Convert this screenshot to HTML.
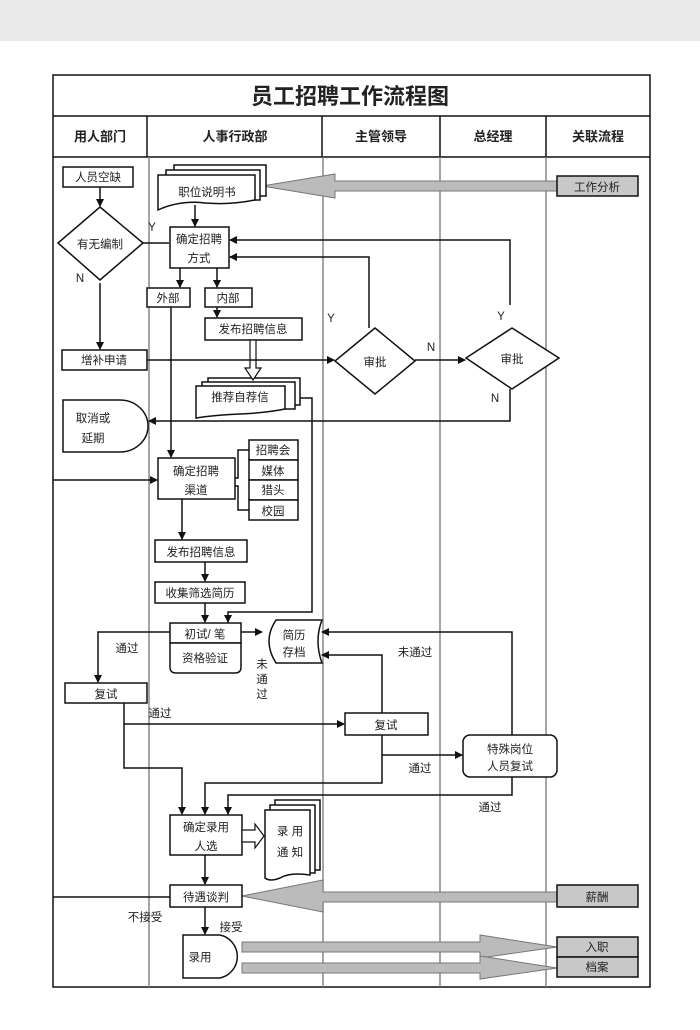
<!DOCTYPE html>
<html><head><meta charset="utf-8"><style>
html,body{margin:0;padding:0;background:#fff;}
svg{display:block;}
text{font-family:"Liberation Sans","Noto Sans CJK SC",sans-serif;fill:#222;}
</style></head><body>
<svg width="700" height="1030" viewBox="0 0 700 1030" xmlns="http://www.w3.org/2000/svg">
<defs>
<marker id="a" markerWidth="8" markerHeight="8" refX="7" refY="4" orient="auto" markerUnits="userSpaceOnUse"><path d="M0,0 L8,4 L0,8 z" fill="#111"/></marker>
</defs>
<rect x="0" y="0" width="700" height="41" fill="#e9e9e9"/>
<g stroke="#111" fill="none" stroke-width="1.5">
<rect x="53" y="75" width="597" height="912"/>
<line x1="53" y1="116" x2="650" y2="116"/>
<line x1="53" y1="157" x2="650" y2="157"/>
<line x1="147" y1="116" x2="147" y2="157"/>
<line x1="322" y1="116" x2="322" y2="157"/>
<line x1="440" y1="116" x2="440" y2="157"/>
<line x1="546" y1="116" x2="546" y2="157"/>
</g>
<g stroke="#888" stroke-width="1.5">
<line x1="149" y1="157" x2="149" y2="987"/>
<line x1="323" y1="157" x2="323" y2="987"/>
<line x1="440" y1="157" x2="440" y2="987"/>
<line x1="546" y1="157" x2="546" y2="987"/>
</g>
<text x="350" y="104" font-size="22" font-weight="bold" text-anchor="middle">员工招聘工作流程图</text>
<g font-size="13" font-weight="bold" text-anchor="middle">
<text x="100" y="141">用人部门</text><text x="235" y="141">人事行政部</text><text x="381" y="141">主管领导</text><text x="493" y="141">总经理</text><text x="598" y="141">关联流程</text>
</g>
<!-- gray big arrows -->
<g fill="#bbb" stroke="#777" stroke-width="1">
<path d="M557,181 L335,181 L335,174 L262,186 L335,198 L335,191 L557,191 z"/>
<path d="M557,892 L323,892 L323,880 L242,896 L323,912 L323,902 L557,902 z"/>
<path d="M242,942 L480,942 L480,935 L557,947 L480,958 L480,952 L242,952 z"/>
<path d="M242,963 L480,963 L480,956 L557,968 L480,979 L480,973 L242,973 z"/>
</g>
<g stroke="#111" stroke-width="1.5">
<rect x="557" y="176" width="81" height="20" fill="#c8c8c8"/>
<rect x="557" y="885" width="81" height="22" fill="#c8c8c8"/>
<rect x="557" y="937" width="81" height="20" fill="#c8c8c8"/>
<rect x="557" y="957" width="81" height="20" fill="#c8c8c8"/>
</g>
<g stroke="#111" stroke-width="1.5" fill="#fff">
<rect x="63" y="167" width="70" height="20"/>
<path d="M100,207 L143,243 L100,280 L58,243 z"/>
<rect x="62" y="350" width="85" height="20"/>
<path d="M63,400 L120,400 A28,26 0 0 1 120,452 L63,452 z"/>
<!-- 职位说明书 -->
<path d="M174,165 L266,165 L266,196 L174,196 z"/>
<path d="M166,170 L260,170 L260,200 L166,200 z"/>
<path d="M158,175 L255,175 L255,200 Q230,205 205,203 Q180,200 158,210 z"/>
<rect x="170" y="227" width="59" height="41"/>
<rect x="147" y="288" width="43" height="19"/>
<rect x="205" y="288" width="47" height="19"/>
<rect x="205" y="318" width="97" height="22"/>
<path d="M375,328 L415,361 L375,394 L335,361 z"/>
<path d="M512,328 L559,358 L512,389 L466,358 z"/>
<!-- 推荐自荐信 -->
<path d="M208,378 L300,378 L300,405 L208,405 z"/>
<path d="M202,382 L295,382 L295,409 L202,409 z"/>
<path d="M196,386 L285,386 L285,409 Q265,413 240,414 Q215,415 196,418 z"/>
<rect x="158" y="458" width="77" height="41"/>
<rect x="249" y="440" width="49" height="20"/>
<rect x="249" y="460" width="49" height="20"/>
<rect x="249" y="480" width="49" height="20"/>
<rect x="249" y="500" width="49" height="20"/>
<rect x="155" y="540" width="92" height="22"/>
<rect x="155" y="582" width="90" height="21"/>
<rect x="170" y="623" width="71" height="20"/>
<path d="M170,643 L241,643 L241,667 Q241,673 235,673 L176,673 Q170,673 170,667 z"/>
<path d="M276,620 L322,620 Q314,641 322,663 L276,663 Q262,641 276,620 z"/>
<rect x="65" y="683" width="82" height="20"/>
<rect x="345" y="713" width="83" height="22"/>
<rect x="463" y="735" width="94" height="42" rx="7"/>
<rect x="170" y="815" width="72" height="40"/>
<path d="M275,800 L320,800 L320,870 L275,870 z"/>
<path d="M270,805 L315,805 L315,873 L270,873 z"/>
<path d="M265,810 L310,810 L310,875 Q290,872 280,878 Q270,882 265,878 z"/>
<rect x="170" y="885" width="72" height="22"/>
<path d="M183,935 L220,935 A22,22 0 0 1 220,978 L183,978 z"/>
</g>
<!-- hollow arrows -->
<g stroke="#111" stroke-width="1.2" fill="#fff">
<path d="M250,340 L256,340 L256,368 L261,368 L253,380 L245,368 L250,368 z"/>
<path d="M242,830 L255,830 L255,824 L264,836 L255,848 L255,842 L242,842 z"/>
</g>
<!-- connectors -->
<g stroke="#111" stroke-width="1.5" fill="none">
<line x1="100" y1="187" x2="100" y2="206" marker-end="url(#a)"/>
<line x1="100" y1="283" x2="100" y2="349" marker-end="url(#a)"/>
<line x1="143" y1="243" x2="169" y2="243"/>
<line x1="195" y1="205" x2="195" y2="226" marker-end="url(#a)"/>
<polyline points="510,305 510,240 230,240" marker-end="url(#a)"/>
<polyline points="369,328 369,257 230,257" marker-end="url(#a)"/>
<line x1="180" y1="268" x2="180" y2="287" marker-end="url(#a)"/>
<line x1="217" y1="268" x2="217" y2="287" marker-end="url(#a)"/>
<line x1="217" y1="307" x2="217" y2="317" marker-end="url(#a)"/>
<line x1="147" y1="360" x2="334" y2="360" marker-end="url(#a)"/>
<line x1="415" y1="360" x2="465" y2="360" marker-end="url(#a)"/>
<polyline points="510,389 510,421 149,421" marker-end="url(#a)"/>
<polyline points="300,398 312,398 312,612 228,612 228,622" marker-end="url(#a)"/>
<line x1="171" y1="307" x2="171" y2="457" marker-end="url(#a)"/>
<line x1="53" y1="480" x2="157" y2="480" marker-end="url(#a)"/>
<polyline points="235,478 238,478 238,450 249,450"/>
<polyline points="235,486 238,486 238,510 249,510"/>
<line x1="182" y1="499" x2="182" y2="539" marker-end="url(#a)"/>
<line x1="205" y1="562" x2="205" y2="581" marker-end="url(#a)"/>
<line x1="205" y1="603" x2="205" y2="622" marker-end="url(#a)"/>
<line x1="241" y1="632" x2="262" y2="632" marker-end="url(#a)"/>
<polyline points="170,632 98,632 98,682" marker-end="url(#a)"/>
<polyline points="124,703 124,724 344,724" marker-end="url(#a)"/>
<polyline points="124,724 124,768 182,768 182,814" marker-end="url(#a)"/>
<polyline points="382,713 382,655 322,655" marker-end="url(#a)"/>
<polyline points="382,735 382,755 462,755" marker-end="url(#a)"/>
<polyline points="382,755 382,783 205,783 205,814" marker-end="url(#a)"/>
<polyline points="512,735 512,632 322,632" marker-end="url(#a)"/>
<polyline points="512,777 512,795 228,795 228,814" marker-end="url(#a)"/>
<line x1="205" y1="855" x2="205" y2="884" marker-end="url(#a)"/>
<line x1="53" y1="897" x2="170" y2="897"/>
<line x1="205" y1="907" x2="205" y2="934" marker-end="url(#a)"/>
</g>
<g font-size="11.5" text-anchor="middle">
<text x="98" y="181">人员空缺</text>
<text x="100" y="248">有无编制</text>
<text x="104" y="364">增补申请</text>
<text x="93" y="422">取消或</text><text x="93" y="442">延期</text>
<text x="207" y="196">职位说明书</text>
<text x="199" y="243">确定招聘</text><text x="199" y="262">方式</text>
<text x="168" y="302">外部</text><text x="228" y="302">内部</text>
<text x="253" y="333">发布招聘信息</text>
<text x="240" y="401">推荐自荐信</text>
<text x="375" y="366">审批</text><text x="512" y="363">审批</text>
<text x="196" y="475">确定招聘</text><text x="196" y="494">渠道</text>
<text x="273" y="454">招聘会</text><text x="273" y="475">媒体</text><text x="273" y="494">猎头</text><text x="273" y="515">校园</text>
<text x="201" y="556">发布招聘信息</text>
<text x="200" y="597">收集筛选简历</text>
<text x="205" y="638">初试/ 笔</text>
<text x="205" y="662">资格验证</text>
<text x="294" y="639">简历</text><text x="294" y="656">存档</text>
<text x="106" y="698">复试</text>
<text x="386" y="729">复试</text>
<text x="510" y="753">特殊岗位</text><text x="510" y="770">人员复试</text>
<text x="206" y="831">确定录用</text><text x="206" y="850">人选</text>
<text x="290" y="835">录 用</text><text x="290" y="856">通 知</text>
<text x="206" y="901">待遇谈判</text>
<text x="200" y="961">录用</text>
<text x="597" y="191">工作分析</text>
<text x="597" y="901">薪酬</text>
<text x="597" y="951">入职</text>
<text x="597" y="971">档案</text>
<text x="127" y="652">通过</text>
<text x="160" y="717">通过</text>
<text x="262" y="668">未</text><text x="262" y="683">通</text><text x="262" y="698">过</text>
<text x="415" y="656">未通过</text>
<text x="420" y="772">通过</text>
<text x="490" y="811">通过</text>
<text x="145" y="921">不接受</text>
<text x="231" y="931">接受</text>
<text x="152" y="231">Y</text><text x="80" y="282">N</text>
<text x="331" y="322">Y</text><text x="431" y="351">N</text>
<text x="501" y="320">Y</text><text x="495" y="402">N</text>
</g>
</svg>
</body></html>
